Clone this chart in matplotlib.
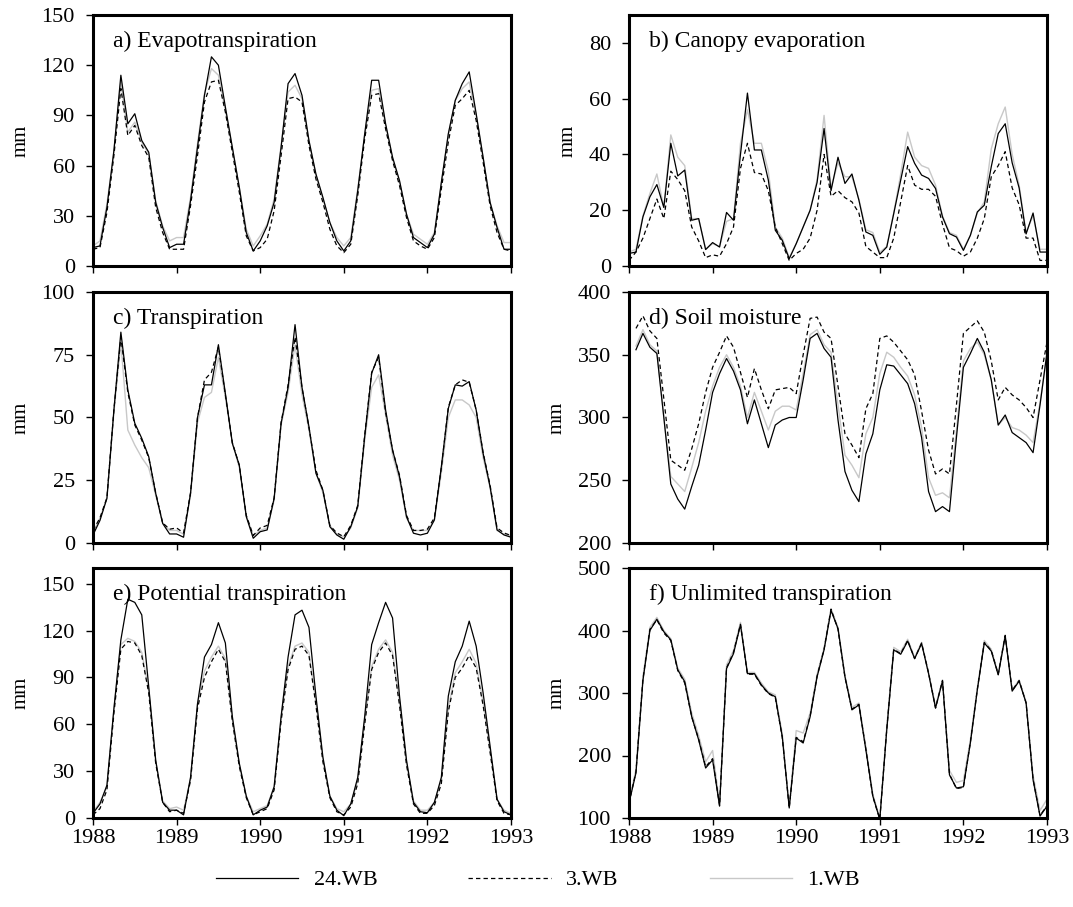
import numpy as np
import matplotlib
matplotlib.use("Agg")
import matplotlib.pyplot as plt

plt.rcParams['font.family'] = ['Liberation Serif', 'DejaVu Serif']

# Monthly time axis, Jan 1988 .. Jan 1993
month_index = np.arange(61)
time = 1988 + month_index / 12.0
year_ticks = [1988, 1989, 1990, 1991, 1992, 1993]
series_names = ['24.WB', '3.WB', '1.WB']
nan = np.nan

# a) Evapotranspiration (mm)
et_24 = [11, 12, 35, 69, 114, 85, 91, 75, 68, 38, 23, 11,
         13, 13, 39, 71, 102, 125, 120, 95, 71, 47, 20, 9,
         15, 24, 38, 71, 109, 115, 102, 75, 55, 41, 26, 15,
         9, 15, 45, 79, 111, 111, 85, 65, 51, 31, 17, 14,
         11, 19, 50, 79, 99, 109, 116, 91, 65, 38, 23, 10, 10]
et_3 = [10, 11, 32, 66, 106, 78, 84, 72, 65, 35, 20, 10,
        10, 10, 36, 66, 98, 110, 111, 92, 68, 44, 18, 9,
        11, 16, 33, 66, 100, 101, 98, 72, 52, 38, 22, 12,
        8, 13, 42, 76, 102, 103, 82, 63, 48, 29, 15, 12,
        10, 17, 46, 74, 96, 100, 105, 87, 62, 36, 20, 10, 9]
et_1 = [12, 15, 37, 68, 110, 80, 86, 74, 67, 39, 24, 15,
        17, 17, 41, 73, 103, 118, 114, 93, 70, 47, 22, 12,
        18, 25, 40, 72, 104, 108, 100, 74, 54, 40, 26, 17,
        12, 17, 46, 78, 105, 106, 84, 64, 50, 31, 19, 16,
        13, 20, 49, 78, 99, 106, 110, 90, 64, 38, 24, 14, 14]

# b) Canopy evaporation (mm)
ce_24 = [4.5, 5, 17.6, 24.8, 29.2, 21, 44, 32.3, 34.4, 16.4, 17, 5.9,
         8.4, 6.8, 19.2, 16.4, 40, 62, 41.6, 41.6, 30.8, 12.8, 9.2, 2.6,
         8, 14, 20, 30, 49.3, 27, 39, 29.6, 33, 23.6, 12.2, 11,
         4.2, 6.8, 18.8, 30.8, 42.8, 36.8, 32.6, 31.4, 27.8, 17.6, 11.6, 10.4,
         5.6, 11, 19.4, 21.8, 35.6, 47.5, 51, 37, 28, 11.5, 19, 5, 5]
ce_3 = [2, 5, 10, 17, 24, 17, 34, 31, 27, 14, 9, 3,
        4, 3.5, 8, 14, 35, 44, 33.5, 33, 27, 14, 8, 2,
        4.5, 6, 10, 20, 40, 25, 27, 24.5, 23, 19, 7, 5,
        3, 3, 10, 23, 36, 29, 27.5, 27.5, 25, 15, 6.5, 5.5,
        3.5, 5, 10, 17, 32, 36, 41, 28, 22, 10, 10, 2, 2]
ce_1 = [5, 6, 18, 26, 33, 21, 47, 39, 36, 17, 17, 6,
        8, 7, 16, 17, 44, 56, 44, 44, 34, 14, 10, 3,
        8, 14, 20, 31, 54, 28, 37, 32, 32, 24, 13, 12,
        5, 7, 19, 33, 48, 39, 36, 35, 29, 18, 12, 11,
        6, 11, 19, 23, 42, 51, 57, 40, 29, 12, 18, 6, 6]

# c) Transpiration (mm)
tr_24 = [3.2, 9, 17.8, 53, 84, 61, 47.7, 41.7, 34.4, 19.8, 7.8, 3.6,
         3.6, 2.3, 19.8, 50, 63, 63, 79, 59.6, 39.7, 31, 10.5, 1.9,
         4.5, 5.2, 17.8, 47.7, 62, 87, 62, 46.3, 27.8, 21, 6.5, 3.2,
         1.5, 6.5, 14.5, 42.4, 67.6, 75, 53, 37, 26.4, 10.5, 3.9, 3.2,
         3.9, 9.2, 30.4, 53.6, 63, 62.5, 64.3, 53, 35.7, 22.4, 5.2, 3.2, 2.3]
tr_3 = [5, 10, 18, 53, 82, 60, 47, 41, 34, 20, 8, 5.5,
        6, 4, 20, 50, 65, 68, 78, 59, 40, 31, 11, 3,
        6, 7, 18, 48, 63, 82, 62, 46, 29, 21, 7, 4,
        2.5, 7, 15, 43, 68, 74, 52, 37, 27, 11, 5, 5,
        5.5, 10, 30, 54, 63, 65, 64, 53, 36, 23, 6, 4, 3]
tr_1 = [4, 10, 18, 52, 80, 45, 39, 34, 30, 19, 8, 5,
        5, 3.5, 19, 48, 58, 60, 74, 58, 40, 30, 11, 3,
        5, 6, 17, 47, 60, 79, 59, 45, 28, 20, 7, 3.5,
        2.5, 6, 14, 41, 62, 67, 51, 35, 25, 10, 5, 5,
        5, 9, 28, 50, 57, 57, 55, 50, 34, 22, 5, 3.5, 3]

# d) Soil moisture (mm)
sm_24 = [nan, 354, 367, 356, 351, 300, 247, 235, 227, 245, 262, 290,
         320, 335, 347, 337, 322, 295, 314, 295, 276, 294, 298, 300,
         300, 330, 363, 367, 355, 348, 298, 257, 242, 233, 271, 287,
         322, 342, 341, 334, 327, 311, 284, 241, 225, 229, 225, 284,
         340, 351, 363, 352, 330, 294, 302, 288, 284, 280, 272, 310, 352]
sm_3 = [nan, 371, 381, 369, 363, 315, 266, 262, 258, 275, 295, 320,
        340, 352, 365, 356, 336, 316, 339, 322, 307, 322, 323, 324,
        319, 350, 379, 380, 368, 363, 325, 287, 278, 268, 307, 319,
        363, 365, 360, 353, 346, 334, 305, 274, 255, 259, 255, 310,
        367, 372, 377, 368, 345, 314, 324, 318, 314, 308, 300, 330, 360]
sm_1 = [nan, 357, 370, 358, 353, 300, 253, 247, 241, 260, 280, 305,
        325, 340, 350, 340, 325, 300, 320, 305, 290, 305, 309, 309,
        306, 335, 366, 370, 358, 352, 310, 270, 262, 252, 287, 300,
        335, 352, 348, 340, 333, 318, 292, 252, 238, 240, 236, 290,
        345, 355, 360, 350, 330, 294, 300, 292, 290, 286, 280, 312, 350]

# e) Potential transpiration (mm)
pt_24 = [3, 9, 21, 70, 114, 140, 138, 130, 84, 37, 10, 5,
         5, 2, 26, 73, 103, 111, 125, 112, 65, 35, 14, 2,
         5, 7, 20, 65, 103, 130, 133, 122, 78, 39, 14, 5,
         1.5, 9, 26, 65, 111, 125, 138, 128, 78, 37, 10, 4,
         3.4, 10, 26, 78, 100, 110, 126, 110, 80, 46, 12, 4, 2]
pt_3 = [2, 6, 18, 67, 108, 113, 112, 104, 80, 35, 10, 4,
        5, 3, 24, 70, 90, 100, 108, 100, 62, 33, 13, 2,
        4, 6, 18, 62, 95, 108, 110, 104, 72, 36, 13, 4,
        2, 7, 22, 60, 95, 106, 112, 104, 72, 34, 9, 3,
        3, 8, 22, 68, 90, 96, 104, 96, 72, 42, 11, 3, 2]
pt_1 = [4, 10, 20, 69, 111, 115, 113, 106, 82, 36, 11, 6,
        7, 5, 25, 73, 94, 103, 110, 102, 63, 34, 14, 4,
        6, 8, 20, 64, 97, 110, 112, 106, 74, 37, 14, 6,
        4, 9, 24, 62, 97, 108, 114, 106, 74, 35, 11, 5,
        5, 10, 24, 70, 93, 100, 108, 99, 74, 43, 12, 5, 3]

# f) Unlimited transpiration (mm)
ut_24 = [124, 172, 320, 400, 418, 398, 385, 337, 318, 262, 225, 180,
         193, 119, 339, 363, 409, 331, 331, 313, 300, 294, 230, 116,
         228, 220, 262, 326, 369, 432, 403, 326, 273, 281, 209, 135,
         98, 241, 369, 362, 383, 355, 379, 331, 276, 319, 169, 148,
         150, 220, 305, 380, 367, 329, 391, 303, 319, 284, 161, 103, 119]
ut_3 = [124, 174, 322, 402, 417, 396, 384, 336, 316, 262, 226, 182,
        195, 120, 340, 365, 410, 330, 330, 312, 299, 293, 229, 116,
        229, 222, 263, 327, 370, 434, 402, 325, 274, 282, 210, 134,
        98, 242, 370, 363, 384, 355, 380, 332, 276, 320, 170, 147,
        149, 221, 306, 381, 368, 330, 392, 304, 320, 284, 162, 104, 120]
ut_1 = [126, 178, 326, 405, 421, 400, 387, 340, 322, 268, 232, 190,
        208, 124, 345, 368, 413, 333, 333, 316, 302, 297, 235, 118,
        240, 236, 268, 330, 372, 435, 405, 328, 277, 284, 214, 138,
        100, 246, 373, 366, 386, 357, 381, 333, 279, 321, 176, 157,
        160, 225, 308, 384, 370, 331, 393, 305, 321, 286, 168, 112, 130]

panels = [
    ("a) Evapotranspiration", (et_24, et_3, et_1), (0, 150), [0, 30, 60, 90, 120, 150]),
    ("b) Canopy evaporation", (ce_24, ce_3, ce_1), (0, 90), [0, 20, 40, 60, 80]),
    ("c) Transpiration", (tr_24, tr_3, tr_1), (0, 100), [0, 25, 50, 75, 100]),
    ("d) Soil moisture", (sm_24, sm_3, sm_1), (200, 400), [200, 250, 300, 350, 400]),
    ("e) Potential transpiration", (pt_24, pt_3, pt_1), (0, 160), [0, 30, 60, 90, 120, 150]),
    ("f) Unlimited transpiration", (ut_24, ut_3, ut_1), (100, 500), [100, 200, 300, 400, 500]),
]

styles = [
    dict(color='black', lw=0.9, ls='-'),
    dict(color='black', lw=0.9, ls=(0, (3.5, 2.5))),
    dict(color='#c8c8c8', lw=1.0, ls='-'),
]

W, H = 1073, 907
fig = plt.figure(figsize=(W / 100, H / 100), dpi=100)

col_left = [93, 629]
ax_w = 418
row_top = [15, 292, 568]
ax_h = [251, 251, 250]

handles = []
for i, (title, series, ylim, yticks) in enumerate(panels):
    r, c = divmod(i, 2)
    left = col_left[c] / W
    bottom = (H - row_top[r] - ax_h[r]) / H
    ax = fig.add_axes([left, bottom, ax_w / W, ax_h[r] / H])
    # light series first, solid series drawn on top
    lines = {}
    for k in (2, 1, 0):
        ln, = ax.plot(time, series[k], **styles[k], label=series_names[k])
        lines[k] = ln
    if i == 0:
        handles = [lines[0], lines[1], lines[2]]
    ax.set_xlim(1988, 1993)
    ax.set_ylim(*ylim)
    ax.set_xticks(year_ticks)
    ax.set_yticks(yticks)
    if r == 2:
        ax.set_xticklabels([str(y) for y in year_ticks])
    else:
        ax.set_xticklabels([])
    ax.tick_params(direction='out', length=5, width=1, labelsize=16)
    ax.tick_params(axis='x', pad=3)
    ax.tick_params(axis='y', pad=8)
    for sp in ax.spines.values():
        sp.set_linewidth(2.2)
    ax.set_ylabel('mm', fontsize=15, labelpad=8)
    ax.text(0.048, 0.893, title, transform=ax.transAxes, fontsize=17,
            ha='left', va='center')

fig.legend(handles=handles, labels=series_names, loc='center',
           bbox_to_anchor=(538 / W, (H - 880) / H), ncol=3, frameon=False,
           fontsize=16, handlelength=3.7, handletextpad=0.7, columnspacing=4.1)

fig.savefig('out.png', dpi=100)
